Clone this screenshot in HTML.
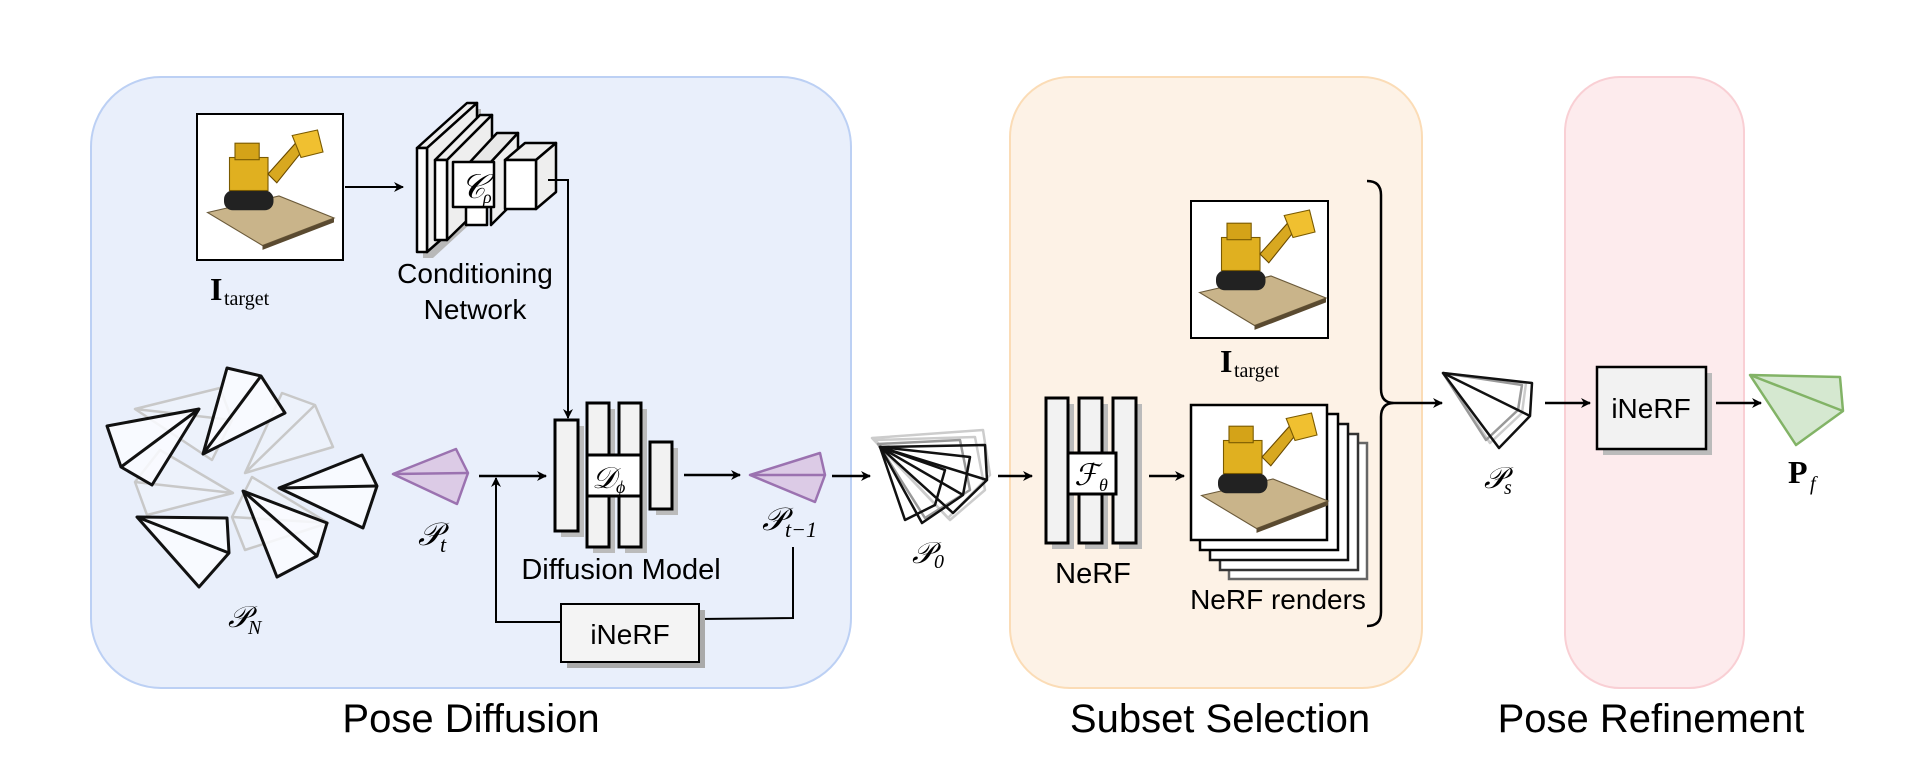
<!DOCTYPE html>
<html><head><meta charset="utf-8"><style>
html,body{margin:0;padding:0;background:#fff;}
svg{display:block;}
text{font-family:"Liberation Sans",sans-serif;}
.m{font-family:"Liberation Serif",serif;font-style:italic;}
.s{font-family:"Liberation Serif",serif;}
</style></head><body>
<svg width="1920" height="776" viewBox="0 0 1920 776" xmlns="http://www.w3.org/2000/svg">
<defs>
<marker id="ar" markerWidth="10" markerHeight="10" refX="9" refY="5" orient="auto" markerUnits="userSpaceOnUse">
<path d="M0,0 L10,5 L0,10 L3,5 Z" fill="#000"/></marker>
<g id="doz">
 <polygon points="-55,25 10,10 60,30 -5,55" fill="#c9b48a" stroke="#6b5a3a" stroke-width="1"/>
 <polygon points="-5,55 60,30 60,34 -5,59" fill="#5a4a30"/>
 <rect x="-40" y="5" width="45" height="18" rx="8" fill="#222"/>
 <rect x="-35" y="-25" width="35" height="30" fill="#e0b020" stroke="#7a5a00" stroke-width="1"/>
 <rect x="-30" y="-38" width="22" height="15" fill="#d4a318" stroke="#7a5a00" stroke-width="1"/>
 <polygon points="0,-10 25,-38 32,-32 8,-2" fill="#d8a820" stroke="#6a4a00" stroke-width="1"/>
 <polygon points="22,-45 45,-50 50,-30 30,-25" fill="#f0c030" stroke="#7a5a00" stroke-width="1"/>
</g>
</defs>

<rect x="91" y="77" width="760" height="611" rx="70" fill="#e9effb" stroke="#bcd0f4" stroke-width="2"/>
<rect x="1010" y="77" width="412" height="611" rx="60" fill="#fdf2e6" stroke="#fbdcb6" stroke-width="2"/>
<rect x="1565" y="77" width="179" height="611" rx="55" fill="#fdebed" stroke="#f9cfd4" stroke-width="2"/>

<text x="471" y="732" font-size="40" text-anchor="middle">Pose Diffusion</text>
<text x="1220" y="732" font-size="40" text-anchor="middle">Subset Selection</text>
<text x="1651" y="732" font-size="40" text-anchor="middle">Pose Refinement</text>

<!-- image 1 -->
<rect x="197" y="114" width="146" height="146" fill="#fff" stroke="#000" stroke-width="2"/>
<use href="#doz" transform="translate(268,185) scale(1.1)"/>
<text x="210" y="300" font-size="32" class="s" font-weight="bold">I</text>
<text x="224" y="305" font-size="20" class="s">target</text>
<line x1="345" y1="187" x2="403" y2="187" stroke="#000" stroke-width="2" marker-end="url(#ar)"/>

<!-- conditioning network -->
<g stroke="#000" stroke-width="2.5" stroke-linejoin="round">
 <polygon points="423,154 473,109 481,109 481,214 433,258 423,258" fill="#b8b8b8" stroke="none"/>
 <polygon points="417,148 467,103 477,103 427,148" fill="#eee"/>
 <polygon points="427,148 477,103 477,208 427,252" fill="#eee"/>
 <rect x="417" y="148" width="10" height="104" fill="#fff"/>
 <polygon points="435,160 480,115 492,115 447,160" fill="#eee"/>
 <polygon points="447,160 492,115 492,196 447,240" fill="#eee"/>
 <rect x="435" y="160" width="12" height="80" fill="#fff"/>
 <polygon points="470,162 497,133 518,133 491,162" fill="#e8e8e8"/>
 <polygon points="491,162 518,133 518,198 491,225" fill="#eee"/>
 <rect x="466" y="207" width="21" height="18" fill="#fff"/>
 <rect x="453" y="162" width="41" height="45" fill="#fff"/>
 <polygon points="505,160 525,143 556,143 536,160" fill="#eee"/>
 <polygon points="536,160 556,143 556,192 536,209" fill="#eee"/>
 <rect x="505" y="160" width="31" height="49" fill="#fff"/>
</g>
<text x="473" y="198" font-size="34" class="m" text-anchor="middle">𝒞</text>
<text x="483" y="203" font-size="18" class="m">ρ</text>
<text x="475" y="283" font-size="28" text-anchor="middle">Conditioning</text>
<text x="475" y="319" font-size="28" text-anchor="middle">Network</text>
<polyline points="548,180 568,180 568,418" fill="none" stroke="#000" stroke-width="2" marker-end="url(#ar)"/>

<g fill="rgba(240,244,252,0.6)" stroke="#c8c8c8" stroke-width="2.5" stroke-linejoin="round">
 <polygon points="135,409 220,388 232,420 212,460"/><line x1="135" y1="409" x2="232" y2="420"/>
 <polygon points="245,473 282,393 315,405 333,447"/><line x1="245" y1="473" x2="315" y2="405"/>
 <polygon points="233,493 160,450 135,482 147,515"/><line x1="233" y1="493" x2="135" y2="482"/>
 <polygon points="232,517 252,477 328,523 245,550"/><line x1="232" y1="517" x2="328" y2="523"/>
</g>
<g fill="rgba(250,252,255,0.85)" stroke="#111" stroke-width="3" stroke-linejoin="round">
 <polygon points="199,409 107,426 121,467 152,485"/><line x1="199" y1="409" x2="121" y2="467"/>
 <polygon points="203,454 227,368 261,376 285,413"/><line x1="203" y1="454" x2="261" y2="376"/>
 <polygon points="279,488 362,455 377,486 363,528"/><line x1="279" y1="488" x2="377" y2="486"/>
 <polygon points="243,491 327,523 317,556 277,577"/><line x1="243" y1="491" x2="317" y2="556"/>
 <polygon points="137,517 227,518 229,553 199,587"/><line x1="137" y1="517" x2="229" y2="553"/>
</g>
<text x="228" y="627" font-size="30" class="m">𝒫</text><text x="248" y="634" font-size="20" class="m">N</text>

<g fill="#dccbe6" stroke="#9b72b0" stroke-width="2.5" stroke-linejoin="round">
 <polygon points="393,474 456,449 468,473 457,504"/><line x1="393" y1="474" x2="468" y2="473"/>
 <polygon points="750,475 820,453 825,475 815,502"/><line x1="750" y1="475" x2="825" y2="475"/>
</g>
<text x="418" y="545" font-size="32" class="m">𝒫</text><text x="440" y="552" font-size="22" class="m">t</text>
<text x="762" y="530" font-size="32" class="m">𝒫</text><text x="785" y="537" font-size="22" class="m">t−1</text>

<line x1="479" y1="476" x2="546" y2="476" stroke="#000" stroke-width="2.5" marker-end="url(#ar)"/>
<g fill="#bbb">
 <rect x="561" y="426" width="23" height="111"/><rect x="593" y="409" width="22" height="144"/><rect x="625" y="409" width="22" height="144"/><rect x="656" y="448" width="22" height="67"/>
</g>
<g fill="#f2f2f2" stroke="#000" stroke-width="3">
 <rect x="555" y="420" width="23" height="111"/>
 <rect x="587" y="403" width="22" height="144"/>
 <rect x="619" y="403" width="22" height="144"/>
 <rect x="650" y="442" width="22" height="67"/>
 <rect x="587" y="455" width="54" height="41" fill="#fff"/>
</g>
<text x="604" y="488" font-size="30" class="m" text-anchor="middle">𝒟</text><text x="616" y="493" font-size="18" class="m">ϕ</text>
<text x="621" y="579" font-size="29" text-anchor="middle">Diffusion Model</text>
<line x1="684" y1="475" x2="740" y2="475" stroke="#000" stroke-width="2.5" marker-end="url(#ar)"/>

<polyline points="793,547 793,618 699,619" fill="none" stroke="#000" stroke-width="2"/>
<polyline points="561,622 496,622 496,478" fill="none" stroke="#000" stroke-width="2" marker-end="url(#ar)"/>
<rect x="567" y="610" width="138" height="58" fill="#aaa"/>
<rect x="561" y="604" width="138" height="58" fill="#f4f4f4" stroke="#000" stroke-width="2"/>
<text x="630" y="644" font-size="28" text-anchor="middle">iNeRF</text>

<line x1="832" y1="476" x2="870" y2="476" stroke="#000" stroke-width="2.5" marker-end="url(#ar)"/>

<g fill="none" stroke-linejoin="round" stroke-width="2.5">
 <g stroke="#ccc">
  <polygon points="872,438 983,430 990,475 948,518"/><polygon points="875,440 975,437 985,490 950,520"/>
 </g>
 <g stroke="#999"><polygon points="878,444 960,440 970,490 925,518"/></g>
 <g stroke="#111">
  <polygon points="880,447 985,445 987,480 953,513"/><line x1="880" y1="447" x2="987" y2="480"/>
  <polygon points="880,447 970,457 963,495 922,523"/><line x1="880" y1="447" x2="963" y2="495"/>
  <polygon points="880,447 945,470 935,505 905,520"/>
 </g>
</g>
<text x="912" y="563" font-size="30" class="m">𝒫</text><text x="934" y="568" font-size="20" class="m">0</text>

<line x1="998" y1="476" x2="1032" y2="476" stroke="#000" stroke-width="2.5" marker-end="url(#ar)"/>

<g fill="#bbb"><rect x="1052" y="404" width="22" height="145"/><rect x="1085" y="404" width="23" height="145"/><rect x="1119" y="404" width="23" height="145"/></g>
<g fill="#f2f2f2" stroke="#000" stroke-width="3">
 <rect x="1046" y="398" width="22" height="145"/><rect x="1079" y="398" width="23" height="145"/><rect x="1113" y="398" width="23" height="145"/>
 <rect x="1068" y="453" width="48" height="41" fill="#fff"/>
</g>
<text x="1086" y="485" font-size="30" class="m" text-anchor="middle">ℱ</text><text x="1099" y="491" font-size="18" class="m">θ</text>
<text x="1093" y="583" font-size="29" text-anchor="middle">NeRF</text>
<line x1="1149" y1="476" x2="1184" y2="476" stroke="#000" stroke-width="2.5" marker-end="url(#ar)"/>

<g fill="#fff" stroke-width="2.5">
 <rect x="1229" y="443" width="138" height="136" stroke="#666"/>
 <rect x="1220" y="434" width="138" height="136" stroke="#333"/>
 <rect x="1210" y="424" width="138" height="136" stroke="#111"/>
 <rect x="1200" y="414" width="138" height="136" stroke="#000"/>
 <rect x="1191" y="405" width="136" height="135" stroke="#000"/>
</g>
<use href="#doz" transform="translate(1262,468) scale(1.1)"/>
<text x="1278" y="609" font-size="28" text-anchor="middle">NeRF renders</text>

<rect x="1191" y="201" width="137" height="137" fill="#fff" stroke="#000" stroke-width="2"/>
<use href="#doz" transform="translate(1260,265) scale(1.1)"/>
<text x="1220" y="372" font-size="32" class="s" font-weight="bold">I</text>
<text x="1234" y="377" font-size="20" class="s">target</text>

<path d="M1367,181 Q1381,181 1381,195 L1381,389 Q1381,403 1394,403 Q1381,403 1381,417 L1381,612 Q1381,626 1367,626" fill="none" stroke="#000" stroke-width="2.5"/>
<line x1="1394" y1="403" x2="1442" y2="403" stroke="#000" stroke-width="2.5" marker-end="url(#ar)"/>

<g fill="none" stroke-width="2.5" stroke-linejoin="round">
 <polygon points="1443,373 1526,383 1522,413 1490,443" stroke="#ccc"/>
 <polygon points="1443,373 1522,385 1518,410 1486,440" stroke="#999"/>
 <polygon points="1443,373 1532,383 1530,416 1499,448" stroke="#111"/>
 <line x1="1443" y1="373" x2="1530" y2="416" stroke="#111"/>
</g>
<text x="1484" y="488" font-size="30" class="m">𝒫</text><text x="1504" y="494" font-size="20" class="m">s</text>

<line x1="1545" y1="403" x2="1590" y2="403" stroke="#000" stroke-width="2.5" marker-end="url(#ar)"/>
<rect x="1603" y="373" width="109" height="82" fill="#bbb"/>
<rect x="1597" y="367" width="109" height="82" fill="#f2f2f2" stroke="#000" stroke-width="2.5"/>
<text x="1651" y="418" font-size="28" text-anchor="middle">iNeRF</text>
<line x1="1716" y1="403" x2="1761" y2="403" stroke="#000" stroke-width="2.5" marker-end="url(#ar)"/>

<g fill="#d5e8d0" stroke="#82b366" stroke-width="2.5" stroke-linejoin="round">
 <polygon points="1750,375 1840,377 1843,411 1796,445"/><line x1="1750" y1="375" x2="1843" y2="411"/>
</g>
<text x="1788" y="483" font-size="32" class="s" font-weight="bold">P</text>
<text x="1810" y="490" font-size="20" class="m">f</text>
</svg>
</body></html>
